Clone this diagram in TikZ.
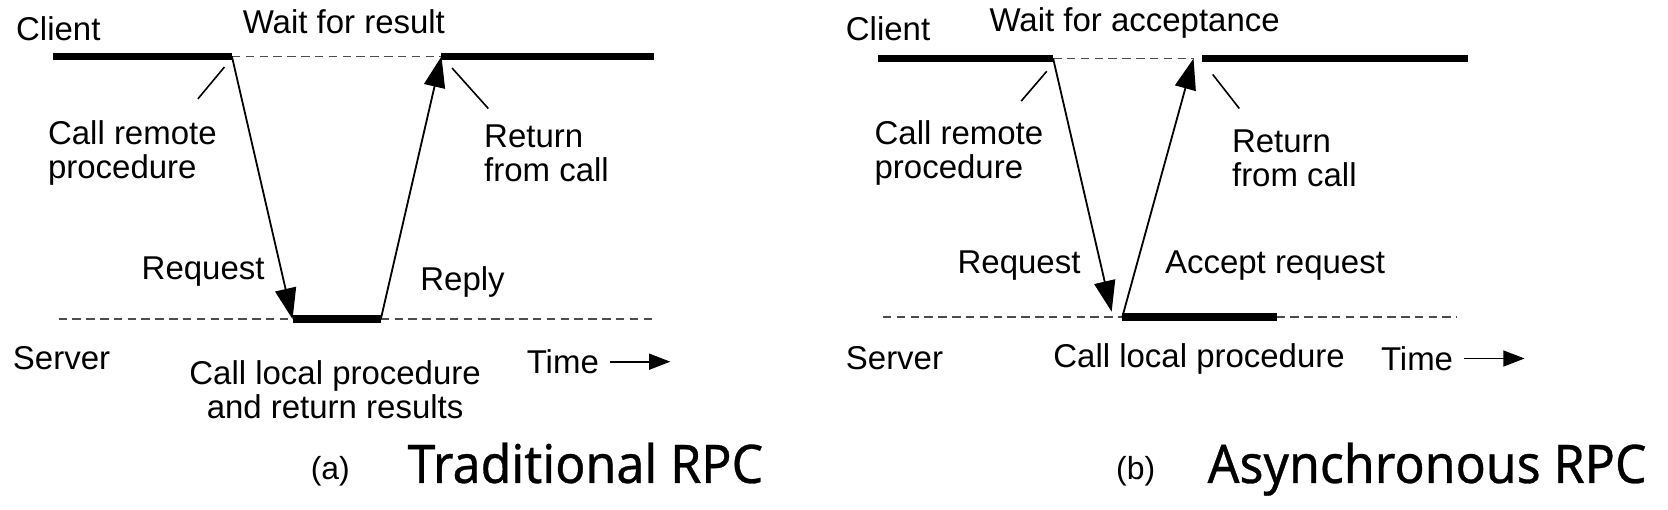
\documentclass[tikz,border=0pt]{standalone}
\usepackage{fontspec}
\setmainfont{Liberation Sans}
\newfontfamily\capfont[FakeStretch=0.94, FakeBold=0.6]{Noto Sans}
\usetikzlibrary{arrows.meta}

\begin{document}
\begin{tikzpicture}[x=1pt, y=-1pt, >=Stealth, font=\fontsize{31}{32}\selectfont]

    \tikzstyle{label} = [inner sep=0pt, anchor=west, align=left]
    \tikzstyle{busy} = [line width=7pt]
    \tikzstyle{idle} = [dash pattern=on 8pt off 5pt, line width=1.4pt, black!70]
    \tikzstyle{msg} = [line width=1.7pt, -{Triangle[length=29pt,width=20pt]}]
    \tikzstyle{leader} = [line width=1.5pt]
    \tikzstyle{timearrow} = [line width=1.8pt, -{Triangle[length=20pt,width=15pt]}]
    \tikzstyle{caption} = [inner sep=0pt, anchor=base west, font=\capfont\fontsize{50}{52}\selectfont]
    \tikzstyle{tag} = [inner sep=0pt, anchor=west, font=\fontsize{30}{30}\selectfont]

    \useasboundingbox (0,0) rectangle (1568,479);

    % (a) Traditional RPC
    \coordinate (aclientL) at (50,53);
    \coordinate (acall) at (218,53);
    \coordinate (aback) at (415,53);
    \coordinate (aclientR) at (615,53);
    \coordinate (aserverL) at (55,300);
    \coordinate (astart) at (275,300);
    \coordinate (aend) at (358,300);
    \coordinate (aserverR) at (615,300);
    \coordinate (aleadA1) at (211,63);
    \coordinate (aleadA2) at (186,93);
    \coordinate (aleadB1) at (425,64);
    \coordinate (aleadB2) at (459,102);

    \node (aclient) [label] at (15,27) {Client};
    \node (await) [label] at (228,20) {Wait for result};
    \node (acallrem) [label] at (45,144) {Call remote\\procedure};
    \node (areturn) [label] at (455,144) {Return\\from call};
    \node (arequest) [label] at (133,255) {Request};
    \node (areply) [label] at (395,265) {Reply};
    \node (aserver) [label] at (12,337) {Server};
    \node (alocal) [inner sep=0pt, align=center] at (315,366) {Call local procedure\\and return results};
    \node (atime) [label] at (495,340) {Time};
    \node (atag) [tag] at (292,443) {(a)};
    \node (acap) [caption] at (383,454) {Traditional RPC};

    \draw [busy] (aclientL) -- (acall);
    \draw [idle] (acall) -- (aback);
    \draw [busy] (aback) -- (aclientR);
    \draw [idle] (aserverL) -- (astart);
    \draw [busy] (astart) -- (aend);
    \draw [idle] (aend) -- (aserverR);
    \draw [msg] (acall) -- (astart);
    \draw [msg] (aend) -- (aback);
    \draw [leader] (aleadA1) -- (aleadA2);
    \draw [leader] (aleadB1) -- (aleadB2);
    \draw [timearrow] ([xshift=10pt]atime.east) -- ++(57,0);

    % (b) Asynchronous RPC
    \coordinate (bclientL) at (825,55);
    \coordinate (bcall) at (990,55);
    \coordinate (bback) at (1122,55);
    \coordinate (bresume) at (1130,55);
    \coordinate (bclientR) at (1380,55);
    \coordinate (bserverL) at (830,298);
    \coordinate (barrive) at (1045,293);
    \coordinate (bstart) at (1055,298);
    \coordinate (bend) at (1200,298);
    \coordinate (bserverR) at (1370,298);
    \coordinate (bleadA1) at (984,67);
    \coordinate (bleadA2) at (960,95);
    \coordinate (bleadB1) at (1140,70);
    \coordinate (bleadB2) at (1165,102);

    \node (bclient) [label] at (795,27) {Client};
    \node (bwait) [label] at (930,22) {Wait for acceptance};
    \node (bcallrem) [label] at (822,144) {Call remote\\procedure};
    \node (breturn) [label] at (1158,149) {Return\\from call};
    \node (brequest) [label] at (900,250) {Request};
    \node (baccept) [label] at (1095,250) {Accept request};
    \node (bserver) [label] at (795,337) {Server};
    \node (blocal) [label] at (990,337) {Call local procedure};
    \node (btime) [label] at (1298,337) {Time};
    \node (btag) [tag] at (1049,443) {(b)};
    \node (bcap) [caption] at (1135,454) {Asynchronous RPC};

    \draw [busy] (bclientL) -- (bcall);
    \draw [idle] (bcall) -- (bback);
    \draw [busy] (bresume) -- (bclientR);
    \draw [idle] (bserverL) -- (bstart);
    \draw [busy] (bstart) -- (bend);
    \draw [idle] (bend) -- (bserverR);
    \draw [msg] (bcall) -- (barrive);
    \draw [msg] (bstart) -- (bback);
    \draw [leader] (bleadA1) -- (bleadA2);
    \draw [leader] (bleadB1) -- (bleadB2);
    \draw [timearrow] ([xshift=10pt]btime.east) -- ++(57,0);

\end{tikzpicture}
\end{document}
